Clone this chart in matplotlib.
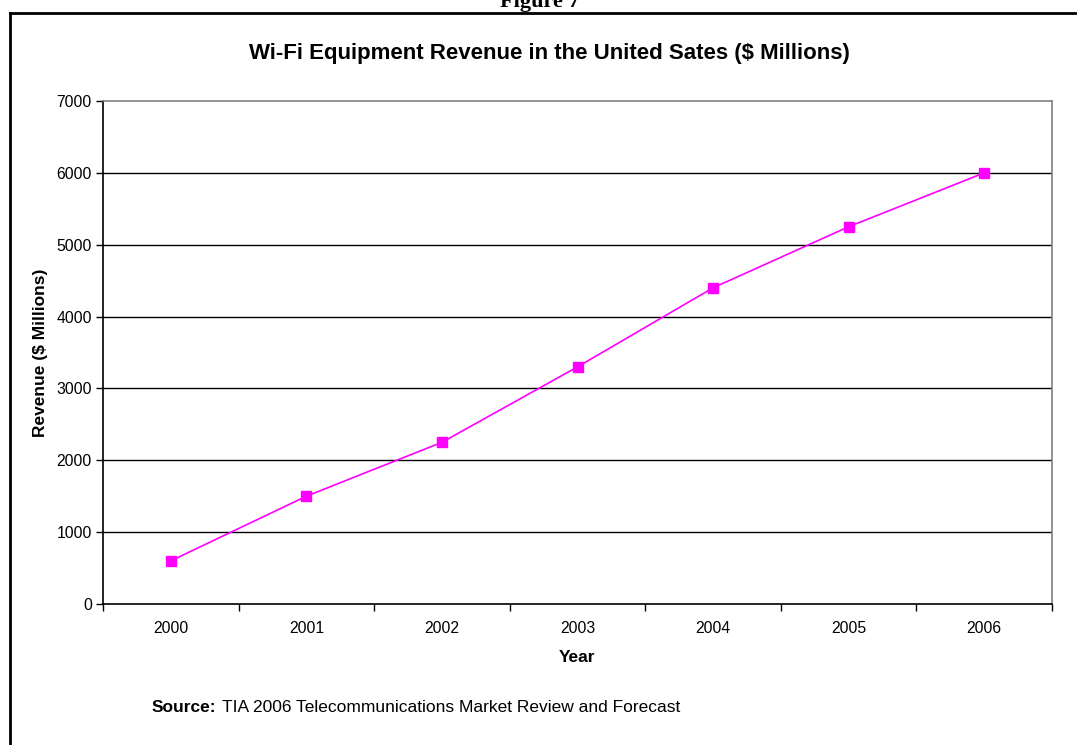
import matplotlib.pyplot as plt
from matplotlib.lines import Line2D

plt.rcParams['font.family'] = ['Liberation Sans', 'DejaVu Sans']

# Chart data
years = ['2000', '2001', '2002', '2003', '2004', '2005', '2006']
revenue = [600, 1500, 2250, 3300, 4400, 5250, 6000]
y_ticks = [0, 1000, 2000, 3000, 4000, 5000, 6000, 7000]

fig = plt.figure(figsize=(10.77, 7.45), dpi=100)
W, H = 1077, 745

# plot area in pixel coords
left, right, top, bottom = 103, 1052, 101, 604
ax = fig.add_axes([left / W, 1 - bottom / H, (right - left) / W, (bottom - top) / H])

xpos = [i + 0.5 for i in range(len(years))]
ax.plot(xpos, revenue, color='#ff00ff', lw=1.2, marker='s', markersize=7,
        markerfacecolor='#ff00ff', markeredgecolor='#ff00ff', zorder=3)

ax.set_xlim(0, len(years))
ax.set_ylim(0, 7000)
ax.set_yticks(y_ticks)
ax.set_yticklabels([str(v) for v in y_ticks], fontsize=11.3)
ax.set_xticks(range(len(years) + 1))
ax.set_xticklabels([])
ax.set_xticks(xpos, minor=True)
ax.set_xticklabels(years, minor=True, fontsize=11.3)
ax.tick_params(axis='x', which='major', direction='out', length=5, width=1)
ax.tick_params(axis='x', which='minor', length=0, pad=12)
ax.tick_params(axis='y', direction='out', length=5, width=1, pad=3)

for v in y_ticks[1:-1]:
    ax.axhline(v, color='black', lw=1, zorder=1)

ax.spines['left'].set_color('black')
ax.spines['bottom'].set_color('black')
ax.spines['top'].set_color('#808080')
ax.spines['right'].set_color('#808080')
for s in ax.spines.values():
    s.set_linewidth(1.2)

ax.set_xlabel('Year', fontsize=12.5, fontweight='bold', labelpad=10)
ax.set_ylabel('Revenue ($ Millions)', fontsize=12.5, fontweight='bold', labelpad=6)

fig.text(549 / W, 1 - 53 / H, 'Wi-Fi Equipment Revenue in the United Sates ($ Millions)',
         ha='center', va='center', fontsize=16, fontweight='bold')

fig.text(540 / W, 1 - 2 / H, 'Figure 7', ha='center', va='center', fontsize=16,
         fontweight='bold', family=['Liberation Serif', 'DejaVu Serif'])

fig.text(152 / W, 1 - 707 / H, 'Source:', ha='left', va='center', fontsize=12.5, fontweight='bold')
fig.text(222 / W, 1 - 707 / H, 'TIA 2006 Telecommunications Market Review and Forecast',
         ha='left', va='center', fontsize=12.5)

# outer frame
fig.add_artist(Line2D([10 / W, 10 / W], [0, 1 - 13 / H], color='black', lw=2,
                      transform=fig.transFigure))
fig.add_artist(Line2D([10 / W, 1.0], [1 - 13 / H, 1 - 13 / H], color='black', lw=2,
                      transform=fig.transFigure))

fig.savefig('out.png', dpi=100)
